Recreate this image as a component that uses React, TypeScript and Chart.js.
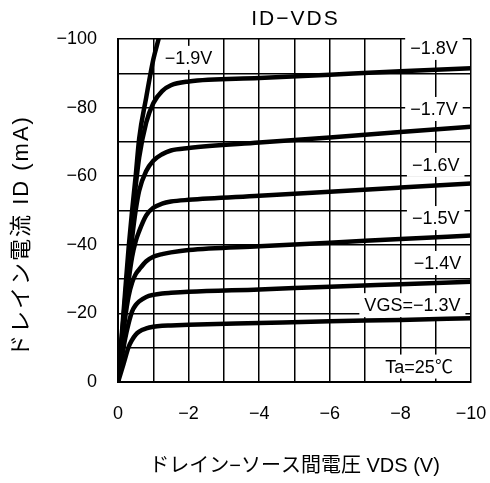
import React, { useEffect, useRef } from 'react';
import { Chart, registerables } from 'chart.js';

Chart.register(...registerables);

// Drain-source voltage sample points (V)
const vds = [0, -0.1, -0.2, -0.3, -0.4, -0.5, -0.6, -0.8, -1, -1.25, -1.5, -2, -4, -6, -8, -10];
// Drain current (mA) for each VGS
const id13 = [0, -3.3, -6.8, -10.2, -12.3, -13.8, -14.7, -15.6, -16.1, -16.4, -16.5, -16.7, -17.2, -17.7, -18.1, -18.6];
const id14 = [0, -6.5, -12.5, -17.1, -20.6, -22.4, -23.5, -24.8, -25.4, -25.8, -26, -26.3, -27, -27.8, -28.5, -29.2];
const id15 = [0, -9.5, -18.5, -25, -29, -31.4, -32.8, -35.2, -36.5, -37.3, -37.8, -38.5, -39.6, -40.6, -41.7, -42.7];
const id16 = [0, -10.5, -20.5, -29.5, -36.5, -41, -44, -48.6, -50.8, -52, -52.6, -53.1, -54.3, -55.5, -56.7, -57.9];
const id17 = [0, -11, -22, -32.5, -42, -50, -55.8, -61.5, -64.5, -66.4, -67.5, -68.2, -69.8, -71.3, -72.9, -74.4];
const id18 = [0, -12, -24, -36, -47, -57, -65.5, -75.7, -81.3, -84.8, -86.5, -87.6, -88.6, -89.6, -90.6, -91.5];
const vds19 = [0, -0.1, -0.2, -0.3, -0.4, -0.5, -0.6, -0.8, -1, -1.15];
const id19 = [0, -13, -26, -39, -50, -60, -71, -83, -94, -100];

const xTickLabels = [0, -2, -4, -6, -8, -10];
const yTickLabels = [0, -20, -40, -60, -80, -100];

const chartTitle = 'ID−VDS';
const xTitle = 'ドレイン−ソース間電圧 VDS (V)';
const yTitle = 'ドレイン電流 ID (mA)';

// Curve annotations
const noteTexts = ['−1.9V', '−1.8V', '−1.7V', '−1.6V', '−1.5V', '−1.4V', 'VGS=−1.3V', 'Ta=25℃'];
const noteX = [-2.0, -8.95, -8.95, -9.0, -9.0, -9.05, -8.34, -8.53];
const noteY = [-94.5, -97.4, -79.6, -63.3, -47.8, -34.7, -22.4, -4.5];

const FONT = '"Liberation Sans", Arial, "Noto Sans CJK JP", sans-serif';

const fmt = (v: number) => (v === 0 ? '0' : '−' + Math.abs(v));

const toPts = (xs: number[], ys: number[]) => xs.map((x, i) => ({ x, y: ys[i] }));

const notesPlugin = {
  id: 'notes',
  beforeDatasetsDraw(chart: any) {
    const { ctx, scales } = chart;
    ctx.save();
    ctx.font = `18px ${FONT}`;
    ctx.textAlign = 'center';
    ctx.textBaseline = 'middle';
    noteTexts.forEach((t, i) => {
      const px = scales.x.getPixelForValue(noteX[i]);
      const py = scales.y.getPixelForValue(noteY[i]);
      const w = ctx.measureText(t).width;
      const padX = 5;
      const h = 24;
      ctx.fillStyle = '#ffffff';
      ctx.fillRect(px - w / 2 - padX, py - h / 2, w + padX * 2, h);
      ctx.fillStyle = '#000000';
      ctx.fillText(t, px, py + 1);
    });
    ctx.restore();
  },
  afterDraw(chart: any) {
    const { ctx, chartArea } = chart;
    ctx.save();
    ctx.textAlign = 'center';
    ctx.textBaseline = 'middle';
    ctx.fillStyle = '#000000';
    ctx.font = `21px ${FONT}`;
    try { (ctx as any).letterSpacing = '2px'; } catch (e) { /* ignore */ }
    ctx.fillText(chartTitle, (chartArea.left + chartArea.right) / 2 + 1, 19);
    ctx.restore();

    ctx.save();
    ctx.textAlign = 'center';
    ctx.textBaseline = 'middle';
    ctx.fillStyle = '#000000';
    ctx.font = `22px ${FONT}`;
    try { (ctx as any).letterSpacing = '2px'; } catch (e) { /* ignore */ }
    ctx.translate(22, 237);
    ctx.rotate(-Math.PI / 2);
    ctx.fillText(yTitle, 1, 0);
    ctx.restore();
  },
};

export default function App() {
  const ref = useRef<HTMLCanvasElement>(null);
  useEffect(() => {
    if (!ref.current) return;
    const series = [
      { data: toPts(vds19, id19) },
      { data: toPts(vds, id18) },
      { data: toPts(vds, id17) },
      { data: toPts(vds, id16) },
      { data: toPts(vds, id15) },
      { data: toPts(vds, id14) },
      { data: toPts(vds, id13) },
    ];
    const chart = new Chart(ref.current, {
      type: 'line',
      data: {
        datasets: series.map((s) => ({
          data: s.data,
          borderColor: '#000000',
          borderWidth: 4.5,
          pointRadius: 0,
          fill: false,
          cubicInterpolationMode: 'monotone' as const,
          borderCapStyle: 'round' as const,
          borderJoinStyle: 'round' as const,
        })),
      },
      options: {
        animation: false,
        responsive: true,
        maintainAspectRatio: false,
        layout: { padding: { left: 0, right: 0, top: 39, bottom: 0 } },
        plugins: {
          legend: { display: false },
          tooltip: { enabled: false },
          title: { display: false },
        },
        scales: {
          x: {
            type: 'linear',
            min: -10,
            max: 0,
            reverse: true,
            afterFit: (s: any) => { s.height = 101; s.paddingRight = 19; s.paddingLeft = 0; },
            grid: { color: '#000000', lineWidth: 1.5, drawTicks: false },
            border: { color: '#000000', width: 2 },
            ticks: {
              stepSize: 1,
              autoSkip: false,
              maxRotation: 0,
              padding: 21,
              color: '#000000',
              font: { family: FONT, size: 18 },
              callback: (v: any) => (xTickLabels.includes(Number(v)) ? fmt(Number(v)) : ''),
            },
            title: {
              display: true,
              text: xTitle,
              color: '#000000',
              font: { family: FONT, size: 20 },
              padding: { top: 0, bottom: 5 },
            },
          },
          y: {
            type: 'linear',
            min: -100,
            max: 0,
            reverse: true,
            afterFit: (s: any) => { s.width = 118; },
            grid: { color: '#000000', lineWidth: 1.5, drawTicks: false },
            border: { color: '#000000', width: 2 },
            ticks: {
              stepSize: 10,
              autoSkip: false,
              padding: 21,
              color: '#000000',
              font: { family: FONT, size: 18 },
              callback: (v: any) => (yTickLabels.includes(Number(v)) ? fmt(Number(v)) : ''),
            },
            title: { display: false },
          },
        },
      },
      plugins: [notesPlugin],
    });
    return () => chart.destroy();
  }, []);
  return (
    <div style={{ position: 'fixed', left: 0, top: 0, width: 490, height: 483, background: '#fff' }}>
      <canvas ref={ref} />
    </div>
  );
}
